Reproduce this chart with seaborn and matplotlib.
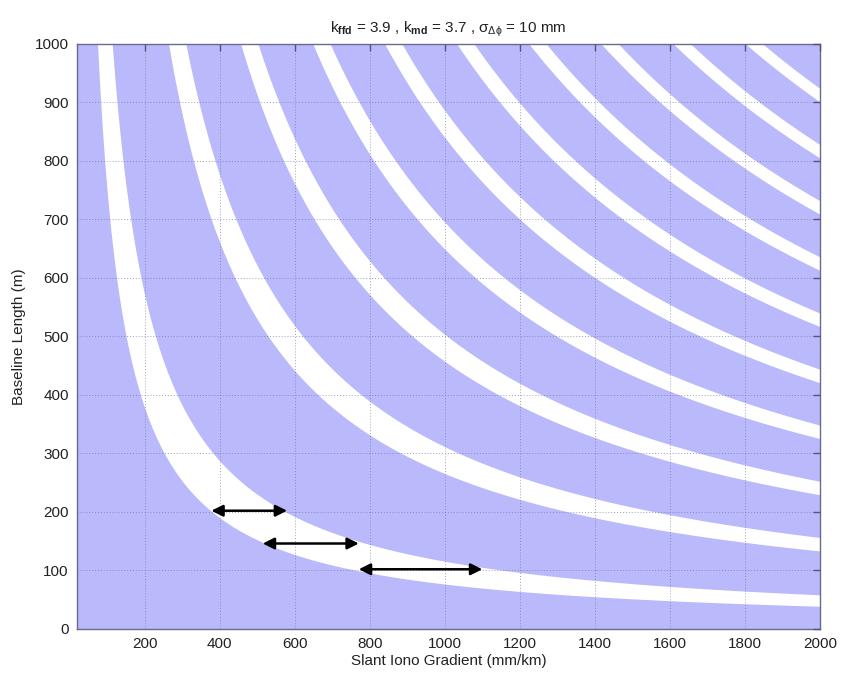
import numpy as np
import pandas as pd
import matplotlib
matplotlib.use("Agg")
import matplotlib.pyplot as plt
import seaborn as sns

# Band limits: product gradient (mm/km) x baseline (m) / 1000, in mm
band_lower = [76, 265, 457, 649, 840, 1032, 1224, 1416, 1608, 1800]
band_upper = [115, 311, 503, 695, 886, 1078, 1270, 1462, 1654, 1846]

# Double-headed arrows: (x_start, x_end, y)
arrow_x_start = [378, 515, 771]
arrow_x_end = [580, 771, 1100]
arrow_y = [202, 146, 102]

x_ticks = [200, 400, 600, 800, 1000, 1200, 1400, 1600, 1800, 2000]
y_ticks = [0, 100, 200, 300, 400, 500, 600, 700, 800, 900, 1000]

sns.set_theme(style="white")
plt.rcParams['font.family'] = ['Liberation Sans', 'DejaVu Sans']
plt.rcParams['mathtext.fontset'] = 'custom'
plt.rcParams['mathtext.rm'] = 'Liberation Sans'
plt.rcParams['mathtext.it'] = 'Liberation Sans'
plt.rcParams['mathtext.bf'] = 'Liberation Sans:bold'

fig = plt.figure(figsize=(8.44, 6.78), dpi=100)
ax = fig.add_axes([0.0912, 0.0723, 0.8804, 0.8635])

bg = '#B9B9FB'
ax.set_facecolor(bg)

xg = np.linspace(20, 2000, 4000)
for lo, hi in zip(band_lower, band_upper):
    ylo = lo * 1000 / xg
    yhi = hi * 1000 / xg
    ax.fill_between(xg, ylo, yhi, color='white', linewidth=0, zorder=1)

ax.set_xlim(20, 2000)
ax.set_ylim(0, 1000)
ax.set_xticks(x_ticks)
ax.set_yticks(y_ticks)

ax.grid(True, color='#6e6e94', linestyle=(0, (1, 2)), linewidth=0.7, alpha=0.65, zorder=2)
ax.set_axisbelow(False)

for xs, xe, yy in zip(arrow_x_start, arrow_x_end, arrow_y):
    ax.annotate('', xy=(xe, yy), xytext=(xs, yy),
                arrowprops=dict(arrowstyle='<|-|>', color='black', lw=1.8,
                                mutation_scale=17, shrinkA=0, shrinkB=0),
                zorder=5)

for s in ax.spines.values():
    s.set_color('#6a6a90')
    s.set_linewidth(1.0)
ax.tick_params(axis='both', which='both', direction='in', length=5, width=1.0,
               color='#55557a', top=True, right=True, labelsize=11,
               labelcolor='#222222', pad=6)

ax.set_xlabel('Slant Iono Gradient (mm/km)', fontsize=11, color='#222222', labelpad=2)
ax.set_ylabel('Baseline Length (m)', fontsize=11, color='#222222', labelpad=6)
ax.set_title(r'k$_{\mathbf{ffd}}$ = 3.9 , k$_{\mathbf{md}}$ = 3.7 , $\sigma_{\Delta\phi}$ = 10 mm',
             fontsize=11, color='#222222', pad=8)

fig.savefig('out.png', dpi=100, facecolor='white')
